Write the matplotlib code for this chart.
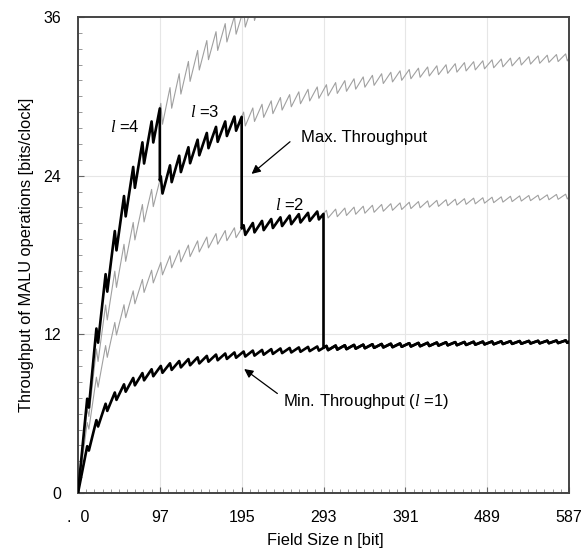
import numpy as np
import matplotlib
matplotlib.use("Agg")
import matplotlib.pyplot as plt

plt.rcParams['font.family'] = ['Liberation Sans', 'DejaVu Sans']
plt.rcParams['mathtext.fontset'] = 'custom'
plt.rcParams['mathtext.it'] = 'Liberation Serif:italic'
plt.rcParams['mathtext.rm'] = 'Liberation Sans'

# ---------------- data ----------------
x_max = 587
x_ticks = [0, 97.83, 195.67, 293.5, 391.33, 489.17, 587]
x_tick_labels = [".  0", "97", "195", "293", "391", "489", "587"]
y_ticks = [0, 12, 24, 36]
switch_n = [97.83, 195.67, 293.5]   # where max throughput drops to next l

# field size at the end of each sawtooth tooth
tooth_n = [11, 22, 33, 44, 55, 66, 77, 88, 99, 110, 121, 132, 143, 154, 165,
           176, 187, 198, 209, 220, 231, 242, 253, 264, 275, 286, 297, 308,
           319, 330, 341, 352, 363, 374, 385, 396, 407, 418, 429, 440, 451,
           462, 473, 484, 495, 506, 517, 528, 539, 550, 561, 572, 583]
drop_width = 2   # bits over which each tooth falls

# l = 1 : value at tooth top and right after the drop
l1_peak = [3.54, 5.51, 6.75, 7.60, 8.22, 8.70, 9.07, 9.36, 9.61, 9.81, 9.98,
           10.13, 10.26, 10.37, 10.47, 10.55, 10.63, 10.70, 10.77, 10.82,
           10.88, 10.93, 10.97, 11.01, 11.05, 11.08, 11.12, 11.15, 11.17,
           11.20, 11.22, 11.25, 11.27, 11.29, 11.31, 11.33, 11.35, 11.36,
           11.38, 11.40, 11.41, 11.42, 11.44, 11.45, 11.46, 11.47, 11.48,
           11.49, 11.50, 11.51, 11.52, 11.53, 11.54]
l1_trough = [3.21, 5.03, 6.21, 7.04, 7.66, 8.14, 8.52, 8.83, 9.09, 9.31, 9.50,
             9.66, 9.80, 9.93, 10.04, 10.14, 10.23, 10.32, 10.39, 10.46,
             10.52, 10.58, 10.63, 10.68, 10.73, 10.77, 10.81, 10.85, 10.88,
             10.92, 10.95, 10.98, 11.01, 11.03, 11.06, 11.08, 11.10, 11.12,
             11.15, 11.17, 11.18, 11.20, 11.22, 11.24, 11.25, 11.27, 11.28,
             11.29, 11.31, 11.32, 11.33, 11.34, 11.36]
l1_end = 11.43

# l = 2
l2_peak = [5.33, 8.76, 11.15, 12.90, 14.24, 15.29, 16.15, 16.85, 17.44, 17.94,
           18.37, 18.75, 19.07, 19.36, 19.62, 19.85, 20.06, 20.25, 20.42,
           20.58, 20.72, 20.85, 20.98, 21.09, 21.19, 21.29, 21.38, 21.47,
           21.55, 21.62, 21.69, 21.76, 21.82, 21.88, 21.94, 21.99, 22.04,
           22.09, 22.13, 22.18, 22.22, 22.26, 22.30, 22.33, 22.37, 22.40,
           22.44, 22.47, 22.50, 22.52, 22.55, 22.58, 22.60]
l2_trough = [4.83, 8.00, 10.26, 11.95, 13.26, 14.31, 15.17, 15.89, 16.50,
             17.03, 17.48, 17.88, 18.23, 18.54, 18.82, 19.08, 19.31, 19.52,
             19.71, 19.88, 20.04, 20.19, 20.33, 20.46, 20.58, 20.69, 20.80,
             20.90, 20.99, 21.08, 21.16, 21.23, 21.31, 21.38, 21.44, 21.51,
             21.57, 21.62, 21.68, 21.73, 21.78, 21.83, 21.87, 21.92, 21.96,
             22.00, 22.04, 22.08, 22.11, 22.15, 22.18, 22.21, 22.24]
l2_end = 22.38

# l = 3
l3_peak = [6.39, 10.89, 14.22, 16.78, 18.81, 20.46, 21.82, 22.96, 23.94,
           24.78, 25.51, 26.15, 26.72, 27.23, 27.69, 28.10, 28.47, 28.81,
           29.12, 29.40, 29.66, 29.91, 30.13, 30.34, 30.53, 30.71, 30.88,
           31.04, 31.19, 31.33, 31.47, 31.59, 31.71, 31.82, 31.93, 32.03,
           32.13, 32.22, 32.31, 32.39, 32.47, 32.55, 32.62, 32.69, 32.76,
           32.82, 32.89, 32.95, 33.00, 33.06, 33.11, 33.16, 33.21]
l3_trough = [5.79, 9.95, 13.09, 15.55, 17.52, 19.14, 20.50, 21.66, 22.65,
             23.51, 24.27, 24.94, 25.54, 26.08, 26.56, 27.00, 27.40, 27.76,
             28.10, 28.41, 28.69, 28.96, 29.21, 29.44, 29.65, 29.85, 30.04,
             30.22, 30.38, 30.54, 30.69, 30.83, 30.97, 31.09, 31.21, 31.33,
             31.44, 31.54, 31.64, 31.74, 31.83, 31.92, 32.00, 32.08, 32.16,
             32.23, 32.30, 32.37, 32.44, 32.50, 32.57, 32.63, 32.68]
l3_end = 32.89

# l = 4 (leaves the plot above 36)
l4_peak = [7.13, 12.44, 16.55, 19.81, 22.46, 24.66, 26.52, 28.10, 29.47,
           30.66, 31.71, 32.64, 33.47, 34.22, 34.89, 35.50, 36.06, 36.57,
           37.03, 37.47, 37.86]
l4_trough = [6.46, 11.37, 15.23, 18.35, 20.92, 23.08, 24.92, 26.51, 27.89,
             29.10, 30.17, 31.13, 31.99, 32.77, 33.47, 34.11, 34.70, 35.24,
             35.74, 36.20, 36.63]


# ---------------- helpers ----------------
def sawtooth(peaks, troughs, end=None):
    xs, ys = [0.0], [0.0]
    for n, p, t in zip(tooth_n, peaks, troughs):
        xs += [n, n + drop_width]
        ys += [p, t]
    if end is not None:
        xs.append(x_max)
        ys.append(end)
    return np.array(xs, float), np.array(ys, float)


def segment(xs, ys, a, b):
    m = (xs > a) & (xs < b)
    sx = np.concatenate([[a], xs[m], [b]])
    sy = np.concatenate([[np.interp(a, xs, ys)], ys[m], [np.interp(b, xs, ys)]])
    return sx, sy


c1 = sawtooth(l1_peak, l1_trough, l1_end)
c2 = sawtooth(l2_peak, l2_trough, l2_end)
c3 = sawtooth(l3_peak, l3_trough, l3_end)
c4 = sawtooth(l4_peak, l4_trough)

# ---------------- figure ----------------
fig = plt.figure(figsize=(5.84, 5.53), dpi=100)
ax = fig.add_axes([78 / 584, 1 - 493 / 553, (569 - 78) / 584, (493 - 17) / 553])

for xv in x_ticks[1:-1]:
    ax.axvline(xv, color='#e6e6e6', lw=0.8, zorder=0)
for yv in y_ticks[1:-1]:
    ax.axhline(yv, color='#e6e6e6', lw=0.8, zorder=0)

gray = '#a0a0a0'
for cx, cy in (c2, c3, c4):
    ax.plot(cx, cy, color=gray, lw=0.8, zorder=2)

# max throughput (black) built from l=4,3,2,1 pieces
bounds = [0] + switch_n + [x_max]
pieces = [c4, c3, c2, c1]
mx, my = [], []
for (cx, cy), a, b in zip(pieces, bounds[:-1], bounds[1:]):
    sx, sy = segment(cx, cy, a, b)
    mx.append(sx)
    my.append(sy)
ax.plot(np.concatenate(mx), np.concatenate(my), color='black', lw=1.9,
        zorder=3)
ax.plot(c1[0], c1[1], color='black', lw=1.9, zorder=3)

ax.set_xlim(0, x_max)
ax.set_ylim(0, 36)
ax.set_xticks(x_ticks)
ax.set_xticklabels(x_tick_labels)
ax.set_yticks(y_ticks)
ax.set_xticks(np.arange(0, 60) * x_max / 60, minor=True)
ax.set_yticks(np.arange(0, 30) * 1.2, minor=True)
ax.tick_params(axis='both', which='major', direction='in', length=4,
               labelsize=11.5, color='#666666')
ax.tick_params(axis='both', which='minor', direction='in', length=3,
               color='#888888')
ax.tick_params(axis='x', pad=12)
ax.tick_params(axis='y', pad=12)
for s in ax.spines.values():
    s.set_color('#444444')
    s.set_linewidth(1.4)

fig.text(27 / 584, 1 - 255 / 553, 'Throughput of MALU operations [bits/clock]',
         rotation=90, ha='center', va='center', fontsize=11.8)
fig.text(325 / 584, 1 - 541 / 553, 'Field Size n [bit]', ha='center',
         va='center', fontsize=11.8)

ax.text(56, 27.7, r'$l$ =4', ha='center', va='center', fontsize=12)
ax.text(151, 28.8, r'$l$ =3', ha='center', va='center', fontsize=12)
ax.text(253, 21.8, r'$l$ =2', ha='center', va='center', fontsize=12)
ax.text(267, 26.9, 'Max. Throughput', ha='left', va='center', fontsize=12)
ax.text(245, 6.9, r'Min. Throughput ($l$ =1)', ha='left', va='center',
        fontsize=12)

ax.annotate('', xy=(205, 24.0), xytext=(256, 26.7),
            arrowprops=dict(arrowstyle='-|>', color='black', lw=0.9,
                            mutation_scale=13))
ax.annotate('', xy=(196, 9.5), xytext=(241, 7.4),
            arrowprops=dict(arrowstyle='-|>', color='black', lw=0.9,
                            mutation_scale=13))

fig.savefig('out.png', dpi=100)
